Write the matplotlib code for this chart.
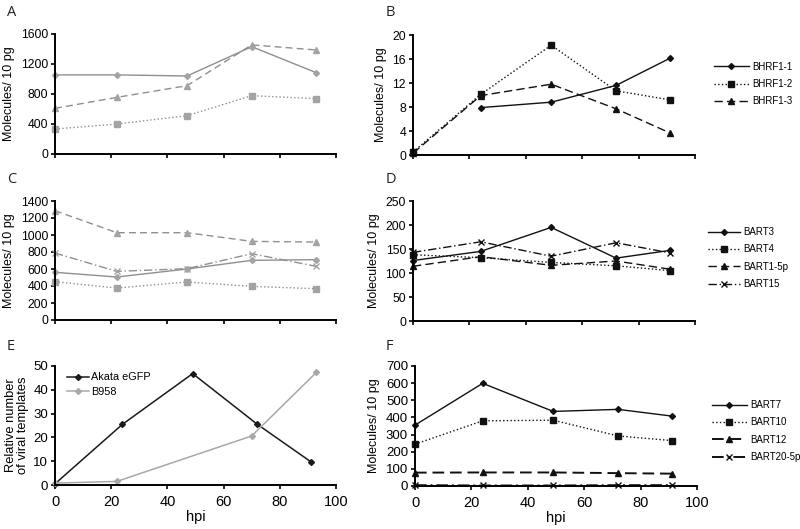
import matplotlib
matplotlib.use("Agg")
import matplotlib.pyplot as plt

plt.rcParams["font.family"] = ["Liberation Sans", "DejaVu Sans"]
plt.rcParams["font.size"] = 8

# hpi sampling points
HPI_LEFT = [0, 22, 47, 70, 93]
HPI_RIGHT = [0, 24, 49, 72, 91]
HPI_B958 = [0, 22, 70, 93]

# panel A (gray, unlabeled series)
A_SOLID = [1055, 1055, 1040, 1431, 1084]
A_DOTTED = [333, 400, 511, 778, 738]
A_DASHED = [609, 755, 911, 1455, 1387]

# panel B
BHRF1_1 = [None, 7.9, 8.8, 11.6, 16.1]
BHRF1_2 = [0.5, 10.1, 18.3, 10.7, 9.2]
BHRF1_3 = [0.3, 9.9, 11.8, 7.7, 3.7]

# panel C (gray, unlabeled series)
C_SOLID = [561, 506, 600, 702, 710]
C_DOTTED = [451, 376, 447, 396, 368]
C_DASHED = [1286, 1027, 1027, 925, 917]
C_DASHDOT = [788, 572, 604, 780, 631]

# panel D
BART3 = [126, 145, 195, 131, 147]
BART4 = [138, 132, 122, 115, 105]
BART1_5P = [114, 134, 116, 125, 108]
BART15 = [143, 165, 135, 163, 142]

# panel E
AKATA = [0.5, 25.5, 46.8, 25.5, 9.8]
B958 = [0.8, 1.5, 20.6, 47.3]

# panel F
BART7 = [355, 599, 435, 447, 408]
BART10 = [244, 380, 384, 292, 265]
BART12 = [78, 79, 79, 75, 72]
BART20_5P = [5, 3, 3, 5, 5]

W, H = 800, 529
LEG_FS = 7
fig = plt.figure(figsize=(8, 5.29), dpi=100)


def make_ax(l, r, t, b):
    return fig.add_axes([l / W, 1 - b / H, (r - l) / W, (b - t) / H])


def style(ax, ymax, ystep, xlabels=False):
    for s in ("top", "right"):
        ax.spines[s].set_visible(False)
    for s in ("left", "bottom"):
        ax.spines[s].set_linewidth(1.4)
    ax.set_xlim(0, 100)
    ax.set_ylim(0, ymax)
    ax.set_xticks(range(0, 101, 20))
    ax.set_yticks(range(0, ymax + 1, ystep))
    ax.tick_params(length=3, width=1.2, labelsize=9.5 if xlabels else 8.8, pad=2)
    if not xlabels:
        ax.set_xticklabels([])
    else:
        ax.tick_params(axis="x", labelsize=10.5, pad=4)
        ax.set_xlabel("hpi", fontsize=10.5, labelpad=1)


def ser(ax, x, y, ls, mk, color, mc, ms=4, lw=1.0, label=None):
    pts = [(a, b) for a, b in zip(x, y) if b is not None]
    xs = [p[0] for p in pts]
    ys = [p[1] for p in pts]
    ax.plot(xs, ys, ls=ls, marker=mk, color=color, mfc=mc, mec=mc, ms=ms,
            lw=lw, clip_on=False, label=label)


def letter(x, y, s):
    fig.text(x / W, 1 - y / H, s, fontsize=10.5, family="Open Sans",
             va="center", ha="left", color="#222222")


def side_legend(ax, x, yc, hl=3.6):
    ax.legend(loc="center left", bbox_to_anchor=(x / W, 1 - yc / H),
              bbox_transform=fig.transFigure, frameon=False, fontsize=LEG_FS,
              handlelength=hl, handletextpad=0.3, labelspacing=0.75, borderpad=0)


YLAB = "Molecules/ 10 pg"
YFS = 9
GL = "#8f8f8f"
GM = "#a3a3a3"
BK = "#111111"

# A
ax = make_ax(55, 336, 34, 154)
style(ax, 1600, 400)
ser(ax, HPI_LEFT, A_SOLID, "-", "D", GL, GM, ms=3)
ser(ax, HPI_LEFT, A_DOTTED, ":", "s", GL, GM)
ser(ax, HPI_LEFT, A_DASHED, (0, (5, 3)), "^", GL, GM)
ax.set_ylabel(YLAB, fontsize=YFS, labelpad=4)
letter(7, 12, "A")

# B
ax = make_ax(413, 695, 35, 155)
style(ax, 20, 4)
ser(ax, HPI_RIGHT, BHRF1_1, "-", "D", BK, BK, ms=3, label="BHRF1-1")
ser(ax, HPI_RIGHT, BHRF1_2, ":", "s", BK, BK, label="BHRF1-2")
ser(ax, HPI_RIGHT, BHRF1_3, (0, (6, 3)), "^", BK, BK, label="BHRF1-3")
ax.set_ylabel(YLAB, fontsize=YFS, labelpad=4)
side_legend(ax, 709, 84)
letter(386, 12, "B")

# C
ax = make_ax(55, 336, 201, 320)
style(ax, 1400, 200)
ser(ax, HPI_LEFT, C_SOLID, "-", "D", GL, GM, ms=3)
ser(ax, HPI_LEFT, C_DOTTED, ":", "s", GL, GM)
ser(ax, HPI_LEFT, C_DASHED, (0, (5, 3)), "^", GL, GM)
ser(ax, HPI_LEFT, C_DASHDOT, (0, (6, 2, 1, 2)), "x", GL, GM)
ax.set_ylabel(YLAB, fontsize=YFS, labelpad=4)
letter(7, 180, "C")

# D
ax = make_ax(413, 695, 201, 321)
style(ax, 250, 50)
ser(ax, HPI_RIGHT, BART3, "-", "D", BK, BK, ms=3, label="BART3")
ser(ax, HPI_RIGHT, BART4, ":", "s", BK, BK, label="BART4")
ser(ax, HPI_RIGHT, BART1_5P, (0, (6, 3)), "^", BK, BK, label="BART1-5p")
ser(ax, HPI_RIGHT, BART15, (0, (6, 2, 1, 2)), "x", BK, BK, label="BART15")
ax.set_ylabel(YLAB, fontsize=YFS, labelpad=4)
side_legend(ax, 703, 258, hl=3.3)
letter(386, 180, "D")

# E
ax = make_ax(55, 336, 366, 485)
style(ax, 50, 10, xlabels=True)
ser(ax, HPI_RIGHT, AKATA, "-", "D", "#1a1a1a", "#1a1a1a", ms=3, lw=1.1, label="Akata eGFP")
ser(ax, HPI_B958, B958, "-", "D", "#a8a8a8", "#a8a8a8", ms=3, lw=1.1, label="B958")
ax.set_ylabel("Relative number\nof viral templates", fontsize=9.3, labelpad=3,
              linespacing=1.0)
ax.legend(loc="upper left", bbox_to_anchor=(62 / W, 1 - 367 / H),
          bbox_transform=fig.transFigure, frameon=False, fontsize=LEG_FS + 0.8,
          handlelength=2.0, handletextpad=0.15, labelspacing=0.45, borderpad=0)
letter(7, 346, "E")

# F
ax = make_ax(415, 697, 366, 486)
style(ax, 700, 100, xlabels=True)
ser(ax, HPI_RIGHT, BART7, "-", "D", BK, BK, ms=3, label="BART7")
ser(ax, HPI_RIGHT, BART10, ":", "s", BK, BK, label="BART10")
ser(ax, HPI_RIGHT, BART12, (0, (6, 3)), "^", BK, BK, lw=1.4, label="BART12")
ser(ax, HPI_RIGHT, BART20_5P, (0, (6, 2, 1, 2)), "x", BK, BK, lw=1.4, label="BART20-5p")
ax.set_ylabel(YLAB, fontsize=YFS, labelpad=4)
side_legend(ax, 707, 431)
letter(386, 346, "F")

fig.savefig("out.png", dpi=100)
